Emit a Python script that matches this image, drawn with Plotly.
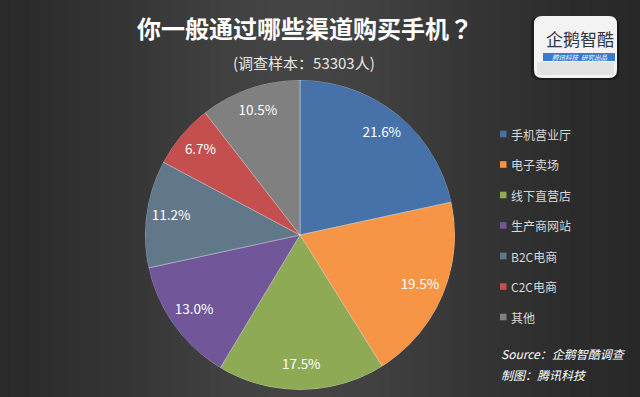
import math
import plotly.graph_objects as go

categories = ["手机营业厅", "电子卖场", "线下直营店", "生产商网站", "B2C电商", "C2C电商", "其他"]
shares = [21.6, 19.5, 17.5, 13.0, 11.2, 6.7, 10.5]
colors = ["#4672A9", "#F59545", "#8FAA55", "#71579A", "#61778A", "#C44F4E", "#808080"]

title_text = "你一般通过哪些渠道购买手机"
title_mark = "？"
subtitle_text = "(调查样本：53303人)"
source_lines = ["Source：企鹅智酷调查", "制图：腾讯科技"]
logo_name = "企鹅智酷"
logo_tag = "腾讯科技  研究出品"

W, H = 640, 397
FONT = "Noto Sans CJK SC"


def px(x):
    return x / W


def py(y):
    return 1 - y / H


def rounded_rect(x0, y0, x1, y1, r):
    # pixel coords (top-left origin) -> paper path with rounded corners
    pts = [
        f"M {px(x0 + r)},{py(y0)}",
        f"L {px(x1 - r)},{py(y0)}",
        f"Q {px(x1)},{py(y0)} {px(x1)},{py(y0 + r)}",
        f"L {px(x1)},{py(y1 - r)}",
        f"Q {px(x1)},{py(y1)} {px(x1 - r)},{py(y1)}",
        f"L {px(x0 + r)},{py(y1)}",
        f"Q {px(x0)},{py(y1)} {px(x0)},{py(y1 - r)}",
        f"L {px(x0)},{py(y0 + r)}",
        f"Q {px(x0)},{py(y0)} {px(x0 + r)},{py(y0)}",
        "Z",
    ]
    return " ".join(pts)


# pie slices as polar wedges: angular position/width derived from the shares
total = sum(shares)
widths = [s / total * 360 for s in shares]
mids = []
acc = 0.0
for w in widths:
    mids.append(acc + w / 2)
    acc += w

fig = go.Figure()

fig.add_trace(go.Barpolar(
    theta=mids,
    r=[1] * len(shares),
    width=widths,
    base=0,
    marker=dict(color=colors, line=dict(color="rgba(255,255,255,0.35)", width=1)),
    customdata=categories,
    hovertemplate="%{customdata}: %{text}<extra></extra>",
    text=[f"{s:.1f}%" for s in shares],
    showlegend=False,
))

fig.add_trace(go.Scatterpolar(
    theta=mids,
    r=[0.84] * len(shares),
    mode="text",
    text=[f"{s:.1f}%" for s in shares],
    textposition="middle center",
    textfont=dict(family=FONT, size=13.5, color="#ffffff"),
    hoverinfo="skip",
    showlegend=False,
))

shapes = []
# background gradient (vertical strips)
N = 64
for i in range(N):
    x0 = i * W / N
    x1 = (i + 1) * W / N
    xc = (x0 + x1) / 2
    v = int(round(38 + 30 * math.exp(-((xc - 300) / 210) ** 2)))
    shapes.append(dict(type="rect", xref="paper", yref="paper", x0=px(x0), x1=min(1, px(x1) + 0.002),
                       y0=0, y1=1, fillcolor=f"rgb({v},{v},{v})", line=dict(width=0), layer="below"))

# logo box (shadow, body, lower tint, blue band)
shapes.append(dict(type="path", xref="paper", yref="paper", path=rounded_rect(531, 17, 619, 80, 8),
                   fillcolor="rgba(0,0,0,0.35)", line=dict(width=0), layer="above"))
shapes.append(dict(type="path", xref="paper", yref="paper", path=rounded_rect(534, 16, 617, 78, 8),
                   fillcolor="#f3f3f3", line=dict(width=0), layer="above"))
shapes.append(dict(type="rect", xref="paper", yref="paper", x0=px(537), x1=px(614), y0=py(75), y1=py(62),
                   fillcolor="#e3e3e3", line=dict(width=0), layer="above"))
shapes.append(dict(type="rect", xref="paper", yref="paper", x0=px(543), x1=px(615), y0=py(61), y1=py(53),
                   fillcolor="#3a7bd0", line=dict(width=0), layer="above"))

annotations = []
title_html = (f"<b>{title_text}<span style=\"font-family:'Noto Sans CJK TC'\">{title_mark}</span></b>")
annotations.append(dict(x=px(305), y=py(27), xref="paper", yref="paper", text=title_html,
                        showarrow=False, font=dict(family=FONT, size=24, color="#ffffff"),
                        xanchor="center", yanchor="middle"))
annotations.append(dict(x=px(304), y=py(63), xref="paper", yref="paper", text=subtitle_text,
                        showarrow=False, font=dict(family=FONT, size=15, color="#e6e6e6"),
                        xanchor="center", yanchor="middle"))
# logo text
annotations.append(dict(x=px(580), y=py(39), xref="paper", yref="paper", text=logo_name,
                        showarrow=False, font=dict(family=FONT, size=17, color="#2e3740"),
                        xanchor="center", yanchor="middle"))
annotations.append(dict(x=px(579), y=py(57.5), xref="paper", yref="paper", text=f"<i>{logo_tag}</i>",
                        showarrow=False, font=dict(family=FONT, size=6.5, color="#ffffff"),
                        xanchor="center", yanchor="middle"))

# legend (squares + labels) built from the category/colour lists
LEG_Y0, LEG_DY = 134, 30.5
for i, (cat, col) in enumerate(zip(categories, colors)):
    yc = LEG_Y0 + i * LEG_DY
    shapes.append(dict(type="rect", xref="paper", yref="paper", x0=px(500), x1=px(506.5),
                       y0=py(yc + 3.3), y1=py(yc - 3.3), fillcolor=col, line=dict(width=0), layer="above"))
    annotations.append(dict(x=px(508.5), y=py(yc), xref="paper", yref="paper", text=cat,
                            showarrow=False, font=dict(family=FONT, size=12, color="#d8d8d8"),
                            xanchor="left", yanchor="middle"))

# source
annotations.append(dict(x=px(499), y=py(353), xref="paper", yref="paper", text=f"<i>{source_lines[0]}</i>",
                        showarrow=False, font=dict(family=FONT, size=12, color="#ffffff"),
                        xanchor="left", yanchor="middle"))
annotations.append(dict(x=px(499), y=py(374), xref="paper", yref="paper", text=f"<i>{source_lines[1]}</i>",
                        showarrow=False, font=dict(family=FONT, size=12, color="#ffffff"),
                        xanchor="left", yanchor="middle"))

fig.update_layout(
    width=W, height=H,
    margin=dict(l=0, r=0, t=0, b=0),
    paper_bgcolor="#333333",
    shapes=shapes,
    annotations=annotations,
    showlegend=False,
    font=dict(family=FONT),
    polar=dict(
        domain=dict(x=[px(145), px(455)], y=[py(390), py(80)]),
        bgcolor="rgba(0,0,0,0)",
        hole=0,
        radialaxis=dict(visible=False, range=[0, 1], showgrid=False, showline=False, ticks=""),
        angularaxis=dict(visible=False, rotation=90, direction="clockwise", showgrid=False,
                         showline=False, ticks=""),
    ),
)

fig.write_html(
    "out.html",
    config={"displayModeBar": False},
    post_script="document.body.style.margin='0';document.body.style.overflow='hidden';"
                "document.body.style.background='#2b2b2b';",
)
